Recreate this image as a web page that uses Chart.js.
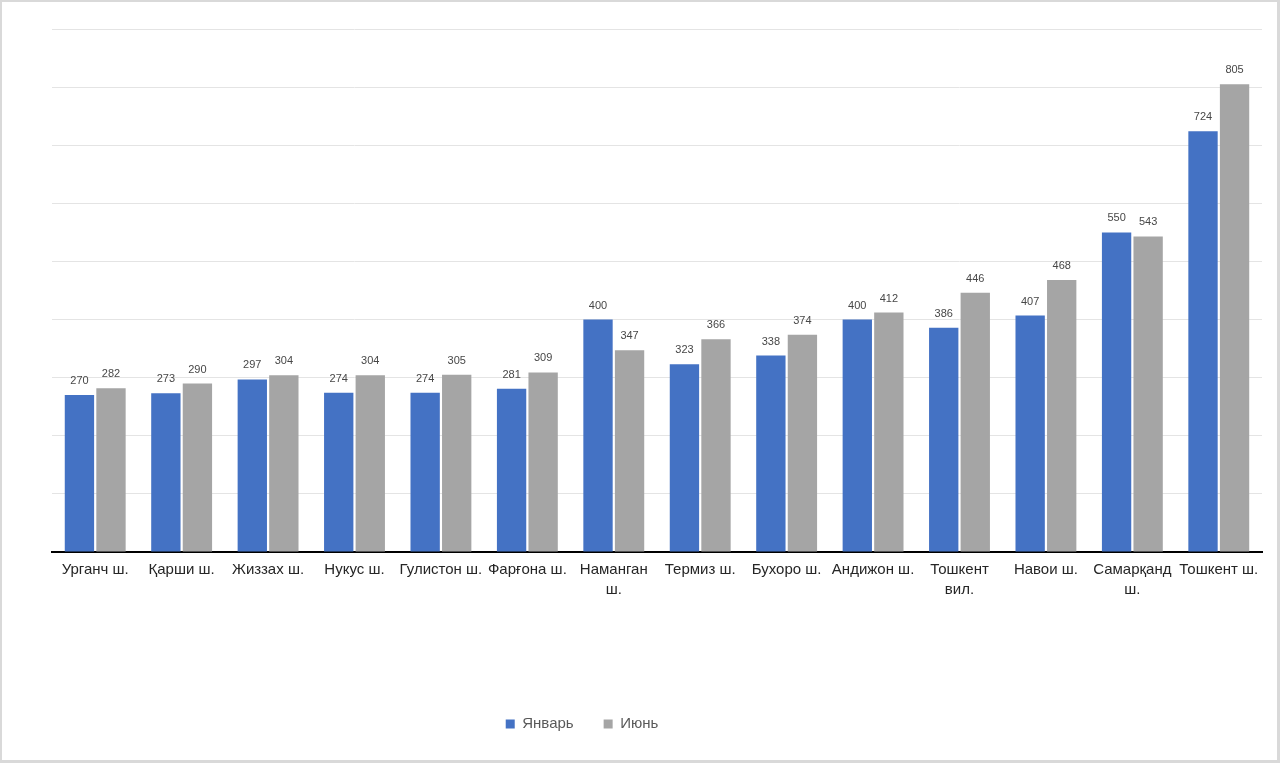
<!DOCTYPE html>
<html>
<head>
<meta charset="utf-8">
<script src="https://cdn.jsdelivr.net/npm/chart.js@4.4.0/dist/chart.umd.min.js"></script>
<style>
  html, body { margin: 0; padding: 0; background: #fff; }
  #frame {
    box-sizing: border-box; width: 1280px; height: 763px;
    border-style: solid; border-color: #d9d9d9;
    border-width: 2px 3px 3px 2px; background: #fff;
  }
  canvas { display: block; }
</style>
</head>
<body>
<div id="frame"><canvas id="c" width="1275" height="758"></canvas></div>
<script>
const categories = [
  'Урганч ш.', 'Қарши ш.', 'Жиззах ш.', 'Нукус ш.', 'Гулистон ш.', 'Фарғона ш.',
  ['Наманган', 'ш.'], 'Термиз ш.', 'Бухоро ш.', 'Андижон ш.', ['Тошкент', 'вил.'],
  'Навои ш.', ['Самарқанд', 'ш.'], 'Тошкент ш.'
];
const seriesNames = ['Январь', 'Июнь'];
const january = [270, 273, 297, 274, 274, 281, 400, 323, 338, 400, 386, 407, 550, 724];
const june    = [282, 290, 304, 304, 305, 309, 347, 366, 374, 412, 446, 468, 543, 805];
const yMin = 0, yMax = 900, yStep = 100;

const valueLabels = {
  id: 'valueLabels',
  afterDatasetsDraw(chart) {
    const ctx = chart.ctx;
    ctx.save();
    ctx.font = '11px "Liberation Sans", Arial, sans-serif';
    ctx.fillStyle = '#474747';
    ctx.textAlign = 'center';
    ctx.textBaseline = 'middle';
    chart.data.datasets.forEach((ds, i) => {
      const meta = chart.getDatasetMeta(i);
      meta.data.forEach((bar, j) => {
        ctx.fillText(String(ds.data[j]), bar.x, bar.y - 14);
      });
    });
    ctx.restore();
  }
};

const legendPlacer = {
  id: 'legendPlacer',
  afterLayout(chart) {
    const l = chart.legend;
    if (!l) return;
    const w = l.right - l.left;
    const h = l.bottom - l.top;
    const cx = 580, cy = 722;
    const pad = l.options.labels.padding;
    l.left = cx - w / 2; l.right = cx + w / 2;
    l.top = cy - pad - 7.5; l.bottom = l.top + h;
  }
};

new Chart(document.getElementById('c'), {
  type: 'bar',
  data: {
    labels: categories,
    datasets: [
      { label: seriesNames[0], data: january, backgroundColor: '#4472C4' },
      { label: seriesNames[1], data: june, backgroundColor: '#A5A5A5' }
    ]
  },
  options: {
    responsive: false,
    animation: false,
    layout: { padding: { left: 50, top: 27, right: 15, bottom: 0 } },
    datasets: { bar: { categoryPercentage: 0.73, barPercentage: 0.93 } },
    scales: {
      x: {
        grid: { display: false, drawTicks: false },
        border: { display: true, color: '#000', width: 2 },
        ticks: {
          color: '#262626', padding: 8, maxRotation: 0, autoSkip: false,
          font: { family: '"Liberation Sans", Arial, sans-serif', size: 15, lineHeight: 1.333 }
        },
        afterFit(s) {
          const lg = s.chart.legend;
          const lh = lg ? (lg.bottom - lg.top) || lg.height || 0 : 0;
          s.height = Math.max(60, 208 - lh);
        }
      },
      y: {
        min: yMin, max: yMax,
        ticks: { display: false, stepSize: yStep },
        grid: { color: '#e4e4e4', lineWidth: 1, drawTicks: false },
        border: { display: false },
        afterFit(s) { s.width = 0; }
      }
    },
    plugins: {
      legend: {
        position: 'bottom',
        labels: {
          boxWidth: 9, boxHeight: 9, padding: 30, color: '#595959',
          font: { family: '"Liberation Sans", Arial, sans-serif', size: 15 }
        }
      },
      tooltip: { enabled: false }
    }
  },
  plugins: [valueLabels, legendPlacer]
});
</script>
</body>
</html>
